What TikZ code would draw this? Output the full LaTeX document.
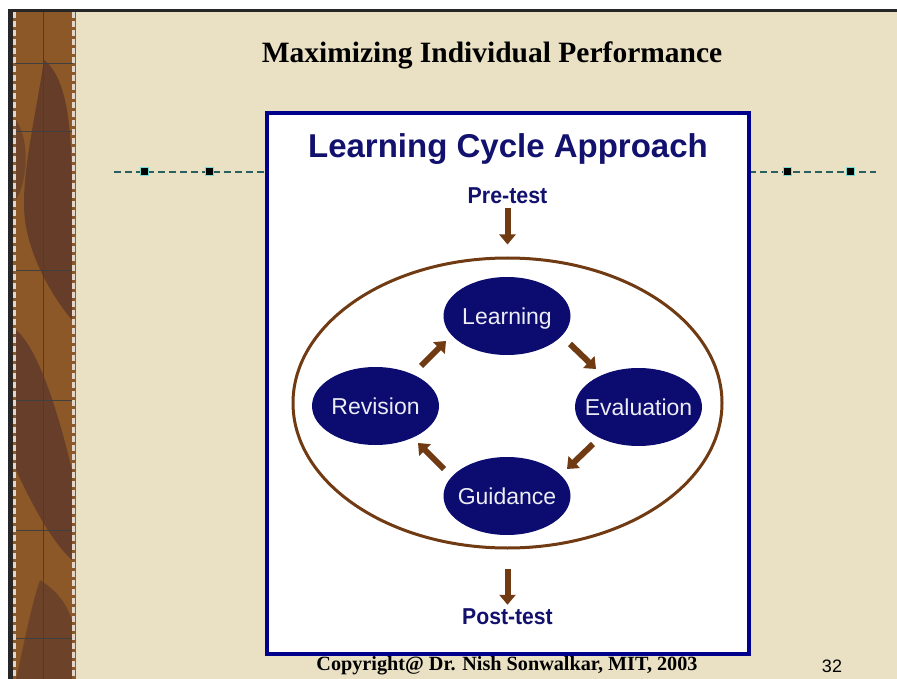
\documentclass[tikz,border=0pt]{standalone}
\usepackage{fontspec}
\setmainfont{Liberation Serif}
\newfontfamily\arial{Liberation Sans}
\usetikzlibrary{shapes.geometric,arrows.meta}
\definecolor{parch}{RGB}{234,225,197}
\definecolor{navy}{RGB}{18,18,110}
\definecolor{navyfill}{RGB}{12,12,112}
\definecolor{boxblue}{RGB}{0,0,140}
\definecolor{brownarr}{RGB}{112,58,18}
\definecolor{strip}{RGB}{140,88,40}
\definecolor{stripdark}{RGB}{88,52,42}
\definecolor{tealline}{RGB}{40,95,95}
\definecolor{halo}{RGB}{120,220,210}
\tikzset{
  stage/.style={ellipse, fill=navyfill, minimum width=127pt, minimum height=78pt, inner sep=0pt, text height=17pt, text depth=0pt, text=white!92!navy, font=\arial\fontsize{23}{26}\selectfont},
  arr/.style={draw=brownarr, line width=6pt, -{Triangle[width=16pt,length=10pt]}},
  dashline/.style={draw=tealline, line width=1.3pt, dash pattern=on 7pt off 4pt},
  marker/.style={fill=black, draw=halo, line width=1pt, minimum size=8pt, inner sep=0pt},
  navytext/.style={text=navy, inner sep=0pt}
}
\newcommand{\stagelabel}[1]{\makebox[0pt]{#1}}
\begin{document}
\begin{tikzpicture}[x=1pt,y=-1pt]
\useasboundingbox (0,0) rectangle (897,679);
% background
\fill[white] (0,0) rectangle (897,679);
\fill[parch] (8,9) rectangle (897,679);
\fill[black!85] (8,9) rectangle (897,12.5);
\fill[black!85] (8,9) rectangle (12.5,679);
% left strip
\fill[strip] (12.5,12.5) rectangle (76,679);
\fill[stripdark, opacity=0.75] (44,60) .. controls (70,80) and (72,140) .. (72,200) -- (72,320) .. controls (55,300) and (30,260) .. (25,220) .. controls (20,180) and (35,120) .. (44,60) -- cycle;
\fill[stripdark, opacity=0.7] (16,330) .. controls (40,350) and (60,420) .. (72,470) -- (72,560) .. controls (50,540) and (30,500) .. (16,470) -- cycle;
\fill[stripdark, opacity=0.6] (40,580) .. controls (55,590) and (65,600) .. (72,620) -- (72,679) -- (16,679) .. controls (25,640) and (30,610) .. (40,580) -- cycle;
\fill[stripdark, opacity=0.5] (16,120) .. controls (30,140) and (28,180) .. (16,200) -- cycle;
\draw[black!75, line width=1pt] (43,12.5) -- (43,679);
\foreach \yy in {64,132,270,400,530,638} \draw[black!75, line width=1pt] (15,\yy) -- (73,\yy);
\draw[white!75!strip, line width=2.5pt, dash pattern=on 6pt off 3pt] (14.5,12.5) -- (14.5,679);
\draw[white!75!strip, line width=2.5pt, dash pattern=on 6pt off 3pt] (73.5,12.5) -- (73.5,679);
% title
\node[inner sep=0pt] (title) at (492,55) {\fontsize{29.5}{33}\selectfont\bfseries Maximizing Individual Performance};
% dashed decorative lines
\coordinate (dl1) at (114,172);
\coordinate (dl2) at (267,172);
\coordinate (dr1) at (749,172);
\coordinate (dr2) at (876,172);
\draw[dashline] (dl1) -- (dl2);
\draw[dashline] (dr1) -- (dr2);
\node[marker] (m1) at (144,172) {};
\node[marker] (m2) at (209,172) {};
\node[marker] (m3) at (787,172) {};
\node[marker] (m4) at (850,172) {};
% white box
\draw[boxblue, line width=4pt, fill=white] (267,113) rectangle (749,654);
\node[navytext] (head) at (508,149) {\arial\fontsize{33}{36}\selectfont\bfseries Learning Cycle Approach};
\node[navytext] (pre) at (507.5,196) {\scalebox{0.93}[1]{\arial\fontsize{23}{26}\selectfont\bfseries Pre-test}};
\node[navytext] (post) at (507.5,617) {\scalebox{0.92}[1]{\arial\fontsize{23}{26}\selectfont\bfseries Post-test}};
% cycle
\node[draw=brownarr, line width=3pt, ellipse, minimum width=429pt, minimum height=290pt, inner sep=0pt] (cycle) at (507.5,403) {};
\node[stage] (learn) at (507,316) {\stagelabel{Learning}};
\node[stage] (eval) at (638.5,407) {\stagelabel{Evaluation}};
\node[stage] (guide) at (507,496) {\stagelabel{Guidance}};
\node[stage] (rev) at (375.5,406) {\stagelabel{Revision}};
% arrows
\draw[arr, shorten <=4pt, shorten >=12pt] (pre) -- (cycle.north);
\draw[arr, shorten <=19pt, shorten >=4pt] (cycle.south) -- (post);
\coordinate (a1s) at (421,366); \coordinate (a1e) at (446,341);
\coordinate (a2s) at (570,344); \coordinate (a2e) at (596,369);
\coordinate (a3s) at (593,444); \coordinate (a3e) at (567,469);
\coordinate (a4s) at (444,469); \coordinate (a4e) at (418,443);
\draw[arr] (a1s) -- (a1e);
\draw[arr] (a2s) -- (a2e);
\draw[arr] (a3s) -- (a3e);
\draw[arr] (a4s) -- (a4e);
% footer
\node[inner sep=0pt] (copy) at (507,666) {\fontsize{20.2}{23}\selectfont\bfseries Copyright@ Dr. Nish Sonwalkar, MIT, 2003};
\node[inner sep=0pt] (pg) at (832,666) {\arial\fontsize{18}{20}\selectfont 32};
\end{tikzpicture}
\end{document}
